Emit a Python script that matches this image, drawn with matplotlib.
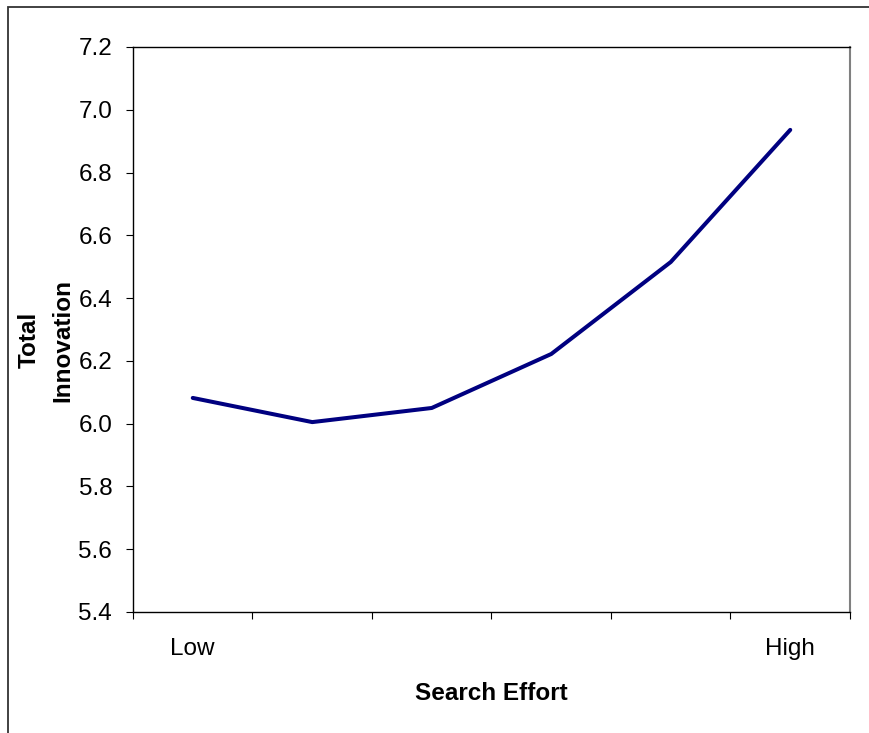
import matplotlib
matplotlib.use("Agg")
import matplotlib.pyplot as plt
from matplotlib.patches import Rectangle

plt.rcParams['font.family'] = ['Liberation Sans', 'DejaVu Sans']

categories = ["Low", "", "", "", "", "High"]
values = [6.082, 6.005, 6.050, 6.222, 6.515, 6.936]
yticks = [5.4, 5.6, 5.8, 6.0, 6.2, 6.4, 6.6, 6.8, 7.0, 7.2]

W, H = 870, 733
FS = 17.5
fig = plt.figure(figsize=(W / 100, H / 100), dpi=100)
ax = fig.add_axes([133 / W, 1 - 612 / H, (850 - 133) / W, (612 - 47) / H])

x = list(range(len(values)))
ax.plot(x, values, color="#000080", linewidth=2.9, solid_capstyle="round")

ax.set_xlim(-0.5, len(values) - 0.5)
ax.set_ylim(5.4, 7.2)
ax.set_yticks(yticks)
ax.set_yticklabels([f"{v:.1f}" for v in yticks], fontsize=FS)
ax.set_xticks(x)
ax.set_xticklabels(categories, fontsize=FS)
ax.tick_params(axis="x", which="major", length=0, pad=19)
ax.set_xticks([i - 0.5 for i in range(len(values) + 1)], minor=True)
ax.tick_params(axis="x", which="minor", length=5, direction="out", width=0.8)
ax.tick_params(axis="y", length=5, direction="out", width=0.8, pad=10)

for s in ["left", "bottom", "top"]:
    ax.spines[s].set_color("black")
    ax.spines[s].set_linewidth(1.0)
ax.spines["right"].set_color("#808080")
ax.spines["right"].set_linewidth(1.5)

ax.set_xlabel("Search Effort", fontsize=FS, fontweight="bold", labelpad=15.5)
fig.text(46 / W, 1 - 340 / H, "Total\nInnovation", rotation=90, fontsize=FS,
         fontweight="bold", ha="center", va="center", linespacing=1.6, multialignment="center")

fig.patches.append(Rectangle((8 / W, -0.1), 1.2, 1 - 7 / H + 0.1, transform=fig.transFigure,
                             fill=False, edgecolor="#333333", linewidth=1.3))

fig.savefig("out.png", dpi=100)
